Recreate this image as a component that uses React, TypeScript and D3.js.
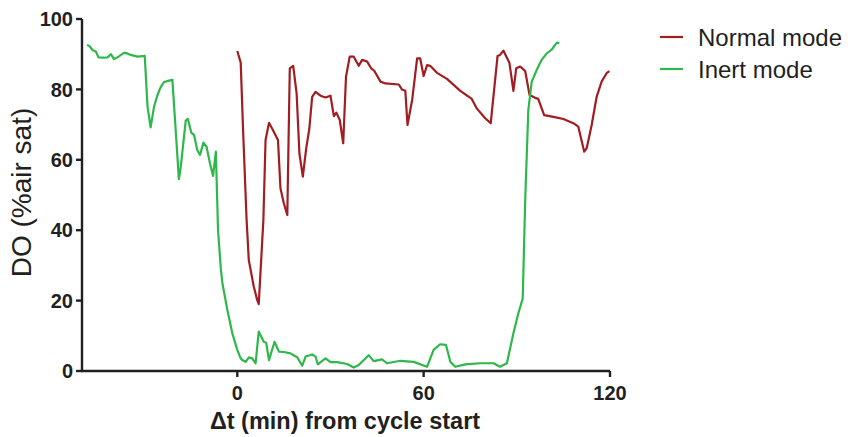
import React from "react";
import * as d3 from "d3";

const seriesNames = ["Normal mode", "Inert mode"];
const seriesColors = ["#a11d22", "#2eb84b"];

const xTicks = [0, 60, 120];
const yTicks = [0, 20, 40, 60, 80, 100];

// Normal mode: time (min) and DO (% air sat)
const normalT = [0, 1.1, 1.9, 3, 3.7, 5.3, 6.4, 6.9, 8.4, 9.1, 10.2, 11.2, 13.1, 13.9, 15, 16.1, 16.9, 18, 19.1, 20, 21.1, 22.2, 23.2, 24.1, 25.2, 26.8, 28.4, 30, 31.1, 31.9, 33, 34.1, 35, 36.2, 37.5, 39.1, 40.2, 41.8, 43.1, 44.1, 46.1, 47.7, 52, 53, 54.1, 54.8, 56.3, 57.9, 58.9, 60, 61.1, 62.1, 64.3, 67.5, 71.8, 75.5, 77.1, 79.8, 81.6, 83.8, 84.6, 85.7, 87.6, 88.9, 89.8, 91.1, 92.7, 94.1, 95.9, 96.9, 98.8, 101.8, 105, 108.2, 109.8, 111.7, 112.5, 114.1, 115.7, 117.3, 118.9, 119.8];
const normalDO = [90.9, 87.6, 67.5, 42.9, 31.5, 24, 20.2, 19, 42.9, 65.6, 70.5, 68.9, 65.6, 51.9, 47.6, 44.3, 86, 86.7, 78.9, 61.8, 55.2, 63.3, 68.9, 77.9, 79.3, 78.2, 77.7, 78.2, 72.4, 73.4, 71.3, 64.7, 83.6, 89.3, 89.3, 86.7, 88.4, 87.9, 86, 85.3, 82.2, 81.7, 81.4, 80, 79.6, 69.9, 77, 88.8, 88.8, 83.8, 86.9, 86.7, 84.7, 83, 79.6, 77.3, 74.6, 71.8, 70.4, 89.5, 89.8, 91, 87.6, 79.6, 86, 86.5, 85.2, 78.4, 77.6, 77.3, 72.7, 72.2, 71.6, 70.4, 69.4, 62.3, 63.3, 69.9, 77.9, 82.2, 84.6, 85.2];

// Inert mode
const inertT = [-48.4, -47.7, -46.6, -45.5, -44.7, -42.9, -41.8, -40.7, -39.7, -38.6, -36.5, -35.6, -34.3, -32.1, -29.8, -28.9, -27.9, -26.8, -25.7, -24.7, -23.6, -22, -20.9, -18.8, -18.2, -16.6, -15.9, -14.8, -13.9, -12.9, -12, -10.9, -9.9, -8.8, -7.8, -6.9, -6.2, -5.3, -4.8, -3.2, -1.6, 0, 1.1, 1.6, 2.7, 3.7, 4.8, 5.9, 6.9, 8.5, 9.3, 10.2, 12, 13.4, 15, 17.1, 19.3, 20.9, 22, 24.1, 25.2, 25.9, 28.4, 30, 32.1, 35.4, 37.5, 39.1, 42.3, 43.9, 46.6, 48.2, 52.5, 56.8, 61.1, 63.2, 65.3, 67.2, 68.6, 70.2, 73.4, 78.2, 82.5, 84.6, 86.8, 88.9, 90.5, 91.9, 92.7, 93.7, 94.8, 96.4, 98, 99.6, 101.3, 102.9, 103.7];
const inertDO = [92.6, 92.4, 91.2, 90.7, 89.1, 89, 89.1, 90, 88.6, 89.1, 90.4, 90.3, 89.8, 89.3, 89.5, 75.1, 69.2, 75.1, 78.4, 80.6, 82.1, 82.5, 82.7, 54.5, 58, 71.1, 71.6, 67.7, 67, 62.8, 61.4, 64.9, 63.7, 59, 55.4, 62.3, 40, 29, 25, 17.3, 10.7, 6, 3.6, 3.1, 2.6, 3.9, 3.6, 2.2, 11.2, 8.3, 8, 3.1, 8.3, 5.5, 5.4, 5, 3.9, 1.5, 4.1, 4.7, 4.1, 1.9, 3.6, 2.5, 2.5, 2, 1, 1.7, 4.5, 2.8, 3.3, 2.2, 2.9, 2.6, 1.2, 6, 7.6, 7.4, 2.6, 1.2, 1.9, 2.2, 2.2, 1.2, 2.2, 10.7, 16.4, 20.6, 48.6, 74.1, 82.2, 85.5, 88.4, 90.2, 91.4, 93.3, 93.1];

const App = () => {
  const width = 848;
  const height = 437;
  const margin = { top: 19, right: 238, bottom: 66, left: 82 };
  const innerW = width - margin.left - margin.right;
  const innerH = height - margin.top - margin.bottom;

  const xScale = d3.scaleLinear().domain([-50, 120]).range([0, innerW]);
  const yScale = d3.scaleLinear().domain([0, 100]).range([innerH, 0]);

  const line = d3
    .line<[number, number]>()
    .x((d) => xScale(d[0]))
    .y((d) => yScale(d[1]))
    .curve(d3.curveLinear);

  const series = [
    normalT.map((t, i) => [t, normalDO[i]] as [number, number]),
    inertT.map((t, i) => [t, inertDO[i]] as [number, number]),
  ];

  const axisColor = "#231f20";
  const font = "Liberation Sans, Arial, sans-serif";

  return (
    <div style={{ position: "absolute", left: 0, top: 0 }}>
      <svg width={width} height={height} style={{ display: "block" }}>
        <rect width={width} height={height} fill="#fff" />
        <g transform={`translate(${margin.left},${margin.top})`}>
          {series.map((s, i) => (
            <path
              key={seriesNames[i]}
              d={line(s) || ""}
              fill="none"
              stroke={seriesColors[i]}
              strokeWidth={2.2}
              strokeLinejoin="round"
            />
          ))}

          {/* y axis */}
          <line x1={0} x2={0} y1={0} y2={innerH} stroke={axisColor} strokeWidth={2.4} />
          {yTicks.map((t) => (
            <g key={t} transform={`translate(0,${yScale(t)})`}>
              <line x1={-6} x2={0} stroke={axisColor} strokeWidth={2.4} />
              <text
                x={-9}
                dy="0.36em"
                textAnchor="end"
                fontFamily={font}
                fontWeight="bold"
                fontSize={20}
                fill={axisColor}
              >
                {t}
              </text>
            </g>
          ))}

          {/* x axis */}
          <line x1={-1.2} x2={innerW} y1={innerH} y2={innerH} stroke={axisColor} strokeWidth={2.4} />
          {xTicks.map((t) => (
            <g key={t} transform={`translate(${xScale(t)},${innerH})`}>
              <line y1={0} y2={6} stroke={axisColor} strokeWidth={2.4} />
              <text
                y={29}
                textAnchor="middle"
                fontFamily={font}
                fontWeight="bold"
                fontSize={20}
                fill={axisColor}
              >
                {t}
              </text>
            </g>
          ))}

          <text
            x={innerW / 2 - 1}
            y={innerH + 58}
            textAnchor="middle"
            fontFamily={font}
            fontWeight="bold"
            fontSize={23.5}
            fill={axisColor}
          >
            Δt (min) from cycle start
          </text>

          <text
            transform={`translate(${-51},${innerH / 2 - 2.5}) rotate(-90)`}
            textAnchor="middle"
            fontFamily={font}
            fontSize={28}
            fill={axisColor}
          >
            DO (%air sat)
          </text>
        </g>

        {/* legend */}
        <g transform="translate(660,37)">
          {seriesNames.map((name, i) => (
            <g key={name} transform={`translate(0,${i * 32})`}>
              <line x1={0} x2={23} stroke={seriesColors[i]} strokeWidth={2.2} />
              <text
                x={38}
                dy="0.36em"
                fontFamily={font}
                fontSize={24}
                fill={axisColor}
              >
                {name}
              </text>
            </g>
          ))}
        </g>
      </svg>
    </div>
  );
};

export default App;
